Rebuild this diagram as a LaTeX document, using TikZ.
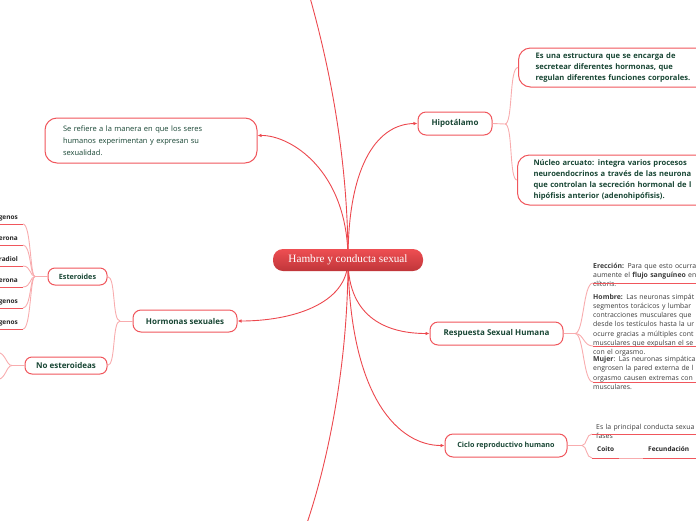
\documentclass[tikz,border=0pt]{standalone}
\usepackage{fontspec}
\setmainfont{Open Sans}
\newfontfamily\hubfont{Liberation Serif}
\usetikzlibrary{arrows.meta,backgrounds}

\definecolor{mmred}{RGB}{240,86,92}
\definecolor{mmline}{RGB}{236,72,78}
\definecolor{mmpink}{RGB}{248,172,174}
\definecolor{mmgreen}{RGB}{24,70,52}
\definecolor{mmgray}{RGB}{60,60,60}
\definecolor{hubtop}{RGB}{238,78,82}
\definecolor{hubbot}{RGB}{192,54,58}

\tikzset{
  hub/.style={rounded corners=10pt, top color=hubtop, bottom color=hubbot,
    text=white, font=\hubfont\fontsize{11.2}{13}\selectfont,
    minimum width=150pt, minimum height=22pt, inner sep=0pt},
  topic/.style={draw=mmred, line width=1pt, fill=white, rounded corners=8pt,
    text=mmgreen, font=\fontsize{8}{10}\selectfont\bfseries,
    inner sep=0pt, minimum height=23pt},
  small topic/.style={topic, rounded corners=7pt, minimum height=17pt},
  textbox/.style={topic, align=left, rounded corners=12pt, inner ysep=0pt},
  link/.style={draw=mmline, line width=0.9pt, -{Latex[length=4pt,width=3.5pt]}},
  twig/.style={draw=mmpink, line width=0.9pt},
  uline/.style={draw=mmred, line width=0.9pt},
  note/.style={text=mmgray, font=\fontsize{6.9}{9.3}\selectfont, align=left,
    anchor=base west, inner sep=0pt, text width=140pt},
  stub/.style={text=black!85, font=\fontsize{6.5}{8}\selectfont\bfseries,
    inner xsep=5pt, inner ysep=4pt, text depth=0pt},
}

\begin{document}
\begin{tikzpicture}[x=1pt,y=-1pt]
  \useasboundingbox (0,0) rectangle (696,520);

  % central topic
  \node[hub] (hub) at (348,260) {Hambre y conducta sexual};

  % left side
  \node[textbox, font=\fontsize{7.5}{12}\selectfont, text width=176pt,
    inner xsep=18pt, minimum height=45pt] (refiere) at (151,140.5)
    {Se refiere a la manera en que los seres\\
     humanos experimentan y expresan su\\
     sexualidad.};
  \node[topic, minimum width=104pt, minimum height=22pt] (hormonas) at (185,321) {Hormonas sexuales};
  \node[small topic, minimum width=59pt, font=\fontsize{7.2}{9}\selectfont\bfseries] (ester) at (77.5,276.5) {Esteroides};
  \node[small topic, minimum width=82pt] (noester) at (66,365.5) {No esteroideas};

  % right side
  \node[topic, minimum width=74pt] (hipo) at (455,123.5) {Hipotálamo};
  \node[textbox, anchor=west, font=\fontsize{7.6}{11}\selectfont\bfseries,
    text width=230pt, inner xsep=17pt, minimum height=39pt] (estruct) at (518,67.5)
    {Es una estructura que se encarga de\\
     secretear diferentes hormonas, que\\
     regulan diferentes funciones corporales.};
  \node[textbox, anchor=west, font=\fontsize{7.6}{11}\selectfont\bfseries,
    text width=230pt, inner xsep=16pt, minimum height=50pt] (nucleo) at (517,180)
    {Núcleo arcuato: integra varios procesos\\
     neuroendocrinos a través de las neurona\\
     que controlan la secreción hormonal de l\\
     hipófisis anterior (adenohipófisis).};
  \node[topic, minimum width=133pt] (resp) at (496.5,333.5) {Respuesta Sexual Humana};
  \node[topic, minimum width=122pt, font=\fontsize{7.2}{9}\selectfont\bfseries] (ciclo) at (506,445.5) {Ciclo reproductivo humano};

  % main links
  \coordinate (upend) at (309,-6);
  \coordinate (downend) at (306,526);
  \begin{scope}[on background layer]
    \draw[link,-] (hub.center) .. controls (348,140) and (322,40) .. (upend);
    \draw[link,-] (hub.center) .. controls (348,380) and (322,480) .. (downend);
    \draw[link] (hub.center) .. controls (348,170) and (290,135) .. ([yshift=5pt]refiere.east);
    \draw[link] (hub.center) .. controls (348,305) and (290,321) .. (hormonas.east);
    \draw[link] (hub.center) .. controls (348,160) and (380,124) .. (hipo.west);
    \draw[link] (hub.center) .. controls (348,320) and (390,333.5) .. (resp.west);
    \draw[link] (hub.center) .. controls (350,400) and (400,445.5) .. (ciclo.west);
  \end{scope}

  % hormonas sexuales
  \coordinate (hsfork) at (120,321);
  \draw[twig] (hormonas.west) -- (hsfork);
  \draw[twig] (hsfork) .. controls (112,321) and (116,276.5) .. (ester.east);
  \draw[twig] (hsfork) .. controls (112,321) and (116,365.5) .. (noester.east);

  % esteroides
  \coordinate (esfork) at (35,276.5);
  \draw[twig] (ester.west) -- (esfork);
  \foreach \txt [count=\i] in {genos,erona,radiol,erona,genos,genos} {
    \node[stub, anchor=south east] (est\i) at (23,{224+21*(\i-1)}) {\txt};
    \draw[uline] ([xshift=-10pt]est\i.south west) -- (est\i.south east);
    \draw[twig] (est\i.south east) .. controls +(8,0) and +(-5,0) .. (esfork);
  }

  % no esteroideas
  \coordinate (nefork) at (12,365.5);
  \coordinate (neup) at (-4,352);
  \coordinate (nedown) at (-4,380);
  \draw[twig] (noester.west) -- (nefork);
  \draw[twig] (nefork) .. controls (6,365.5) and (6,352) .. (neup);
  \draw[twig] (nefork) .. controls (6,365.5) and (6,380) .. (nedown);

  % hipotalamo
  \coordinate (hpfork) at (505,124);
  \draw[twig] (hipo.east) -- (hpfork);
  \draw[twig] (hpfork) .. controls (513,124) and (509,67.5) .. (estruct.west);
  \draw[twig] (hpfork) .. controls (513,124) and (509,180) .. (nucleo.west);

  % respuesta sexual humana
  \coordinate (rsfork) at (575,333.5);
  \coordinate (ulA) at (593,283);
  \coordinate (ulB) at (593,346);
  \coordinate (ulC) at (593,382);
  \node[note] (ereccion) at (593,268)
    {\textbf{Erección:} Para que esto ocurra\\
     aumente el \textbf{flujo sanguíneo} en\\
     clítoris.};
  \node[note] (hombre) at (593,299)
    {\textbf{Hombre:} Las neuronas simpát\\
     segmentos torácicos y lumbar\\
     contracciones musculares que\\
     desde los testículos hasta la ur\\
     ocurre gracias a múltiples cont\\
     musculares que expulsan el se\\
     con el orgasmo.};
  \node[note] (mujer) at (593,361.5)
    {\textbf{Mujer}: Las neuronas simpática\\
     engrosen la pared externa de l\\
     orgasmo causen extremas con\\
     musculares.};
  \draw[twig] (resp.east) -- (rsfork);
  \foreach \u in {ulA,ulB,ulC} {
    \draw[twig] (rsfork) .. controls (584,333.5) and (583,0|-\u) .. (\u);
    \draw[uline] (\u) -- ++(110,0);
  }

  % ciclo reproductivo
  \coordinate (cpfork) at (582,445.5);
  \coordinate (ulD) at (592,434);
  \node[note] (fases) at (596,429.5)
    {Es la principal conducta sexua\\[-0.5pt]
     fases};
  \node[stub, anchor=south west, text=black!85, inner ysep=6pt] (coito) at (592,458) {Coito};
  \node[stub, anchor=south west, text=black!85, inner ysep=6pt] (fecund) at (643,458) {Fecundación};
  \draw[twig] (ciclo.east) -- (cpfork);
  \draw[twig] (cpfork) .. controls (587,445.5) and (586,434) .. (ulD);
  \draw[twig] (cpfork) .. controls (587,445.5) and (586,458) .. (coito.south west);
  \draw[uline] (ulD) -- ++(110,0);
  \draw[uline] (coito.south west) -- (coito.south east);
  \draw[twig] (coito.south east) -- (fecund.south west);
  \draw[uline] (fecund.south west) -- ++(60,0);
\end{tikzpicture}
\end{document}
